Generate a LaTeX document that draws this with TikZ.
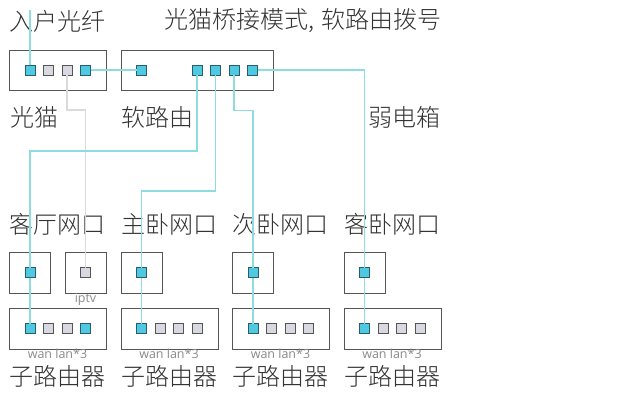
\documentclass[tikz,border=0pt]{standalone}
\usepackage{fontspec}
\setmainfont{Noto Sans CJK SC}[UprightFont=* Light]
\setsansfont{Open Sans}
\definecolor{boxline}{HTML}{555555}
\definecolor{teal1}{HTML}{8FDCE0}
\definecolor{gray1}{HTML}{DADADA}
\definecolor{portblue}{HTML}{4FC8E2}
\definecolor{portedge}{HTML}{2B5C6B}
\definecolor{portgray}{HTML}{D8D8E0}
\definecolor{txt}{HTML}{333333}
\definecolor{small}{HTML}{8A8A8A}
\tikzset{
  x=1pt,y=-1pt,
  devbox/.style={draw=boxline,line width=1pt,minimum height=40.5pt,inner sep=0pt,outer sep=0pt,anchor=north west},
  bport/.style={draw=portedge,fill=portblue,line width=1pt,minimum size=10pt,inner sep=0pt,outer sep=0pt},
  gport/.style={draw=boxline,fill=portgray,line width=1pt,minimum size=10pt,inner sep=0pt,outer sep=0pt},
  net/.style={draw=teal1,line width=1.25pt},
  iptvnet/.style={draw=gray1,line width=1.1pt},
  big/.style={text=txt,font=\fontsize{24}{24}\selectfont,inner sep=0pt},
  tiny/.style={text=small,font=\sffamily\fontsize{12.5}{12.5}\selectfont,inner sep=0pt},
}
\begin{document}
\begin{tikzpicture}
\useasboundingbox (0,0) rectangle (617,400);
\fill[white] (0,0) rectangle (617,400);
% boxes
\node[devbox,minimum width=97pt] (modem) at (9.5,50) {};
\node[devbox,minimum width=152pt] (router) at (121,50) {};
\node[devbox,minimum width=41pt] (room1) at (9.5,252.5) {};
\node[devbox,minimum width=41pt] (room2) at (65,252.5) {};
\node[devbox,minimum width=41pt] (room3) at (121,252.5) {};
\node[devbox,minimum width=41pt] (room4) at (232.5,252.5) {};
\node[devbox,minimum width=41pt] (room5) at (344,252.5) {};
\node[devbox,minimum width=97pt] (sub1) at (9.5,308.5) {};
\node[devbox,minimum width=97pt] (sub2) at (121,308.5) {};
\node[devbox,minimum width=97pt] (sub3) at (232.5,308.5) {};
\node[devbox,minimum width=97pt] (sub4) at (344,308.5) {};
% ports
\node[bport] (m1) at (30,70) {};
\node[gport] (m2) at (48.5,70) {};
\node[gport] (m3) at (67,70) {};
\node[bport] (m4) at (85.5,70) {};
\node[bport] (r0) at (141.5,70) {};
\node[bport] (r1) at (197,70) {};
\node[bport] (r2) at (215.5,70) {};
\node[bport] (r3) at (234,70) {};
\node[bport] (r4) at (252.5,70) {};
\node[bport] (l1) at (30,272.5) {};
\node[gport] (l2) at (85.5,272.5) {};
\node[bport] (l3) at (141.5,272.5) {};
\node[bport] (l4) at (253,272.5) {};
\node[bport] (l5) at (364.5,272.5) {};
\foreach \n/\x in {s1/30,s2/141.5,s3/253,s4/364.5}{\node[bport] (\n) at (\x,328.5) {};}
\foreach \n/\x in {a1/48.5,a2/67,b1/160,b2/178.5,b3/197,c1/271.5,c2/290,c3/308.5,d1/383,d2/401.5,d3/420}{\node[gport] (\n) at (\x,328.5) {};}
\node[bport] (a3) at (85.5,328.5) {};
% labels
\node[big] (t1) at (57.5,21) {入户光纤};
\node[big,anchor=west] (t2) at (164,21) {光猫桥接模式,\kern7pt 软路由拨号};
\node[big] (t3) at (34,117) {光猫};
\node[big] (t4) at (157,117) {软路由};
\node[big] (t5) at (404.5,117) {弱电箱};
\node[big] (t6) at (57.5,224) {客厅网口};
\node[big] (t7) at (169,224) {主卧网口};
\node[big] (t8) at (280.5,224) {次卧网口};
\node[big] (t9) at (392,224) {客卧网口};
\node[tiny] (i) at (85.5,299) {iptv};
\foreach \n/\x in {w1/57.5,w2/169,w3/280.5,w4/392}{\node[tiny] (\n) at (\x,354) {wan lan*3};}
\foreach \n/\x in {z1/57.5,z2/169,z3/280.5,z4/392}{\node[big] (\n) at (\x,376) {子路由器};}
% connectors
\coordinate (fiber) at (30,10);
\draw[net] (fiber) -- (m1.north);
\draw[net] (m4.east) -- (r0.west);
\draw[iptvnet] (m3.south) -- ++(0,35) -| (l2.north);
\draw[net] (r1.south) -- ++(0,76) -| (l1.north);
\draw[net] (r2.south) -- ++(0,116) -| (l3.north);
\draw[net] (r3.south) -- ++(0,35.5) -| (l4.north);
\draw[net] (r4.east) -| (l5.north);
\draw[net] (l1.south) -- (s1.north);
\draw[net] (l3.south) -- (s2.north);
\draw[net] (l4.south) -- (s3.north);
\draw[net] (l5.south) -- (s4.north);
\end{tikzpicture}
\end{document}
